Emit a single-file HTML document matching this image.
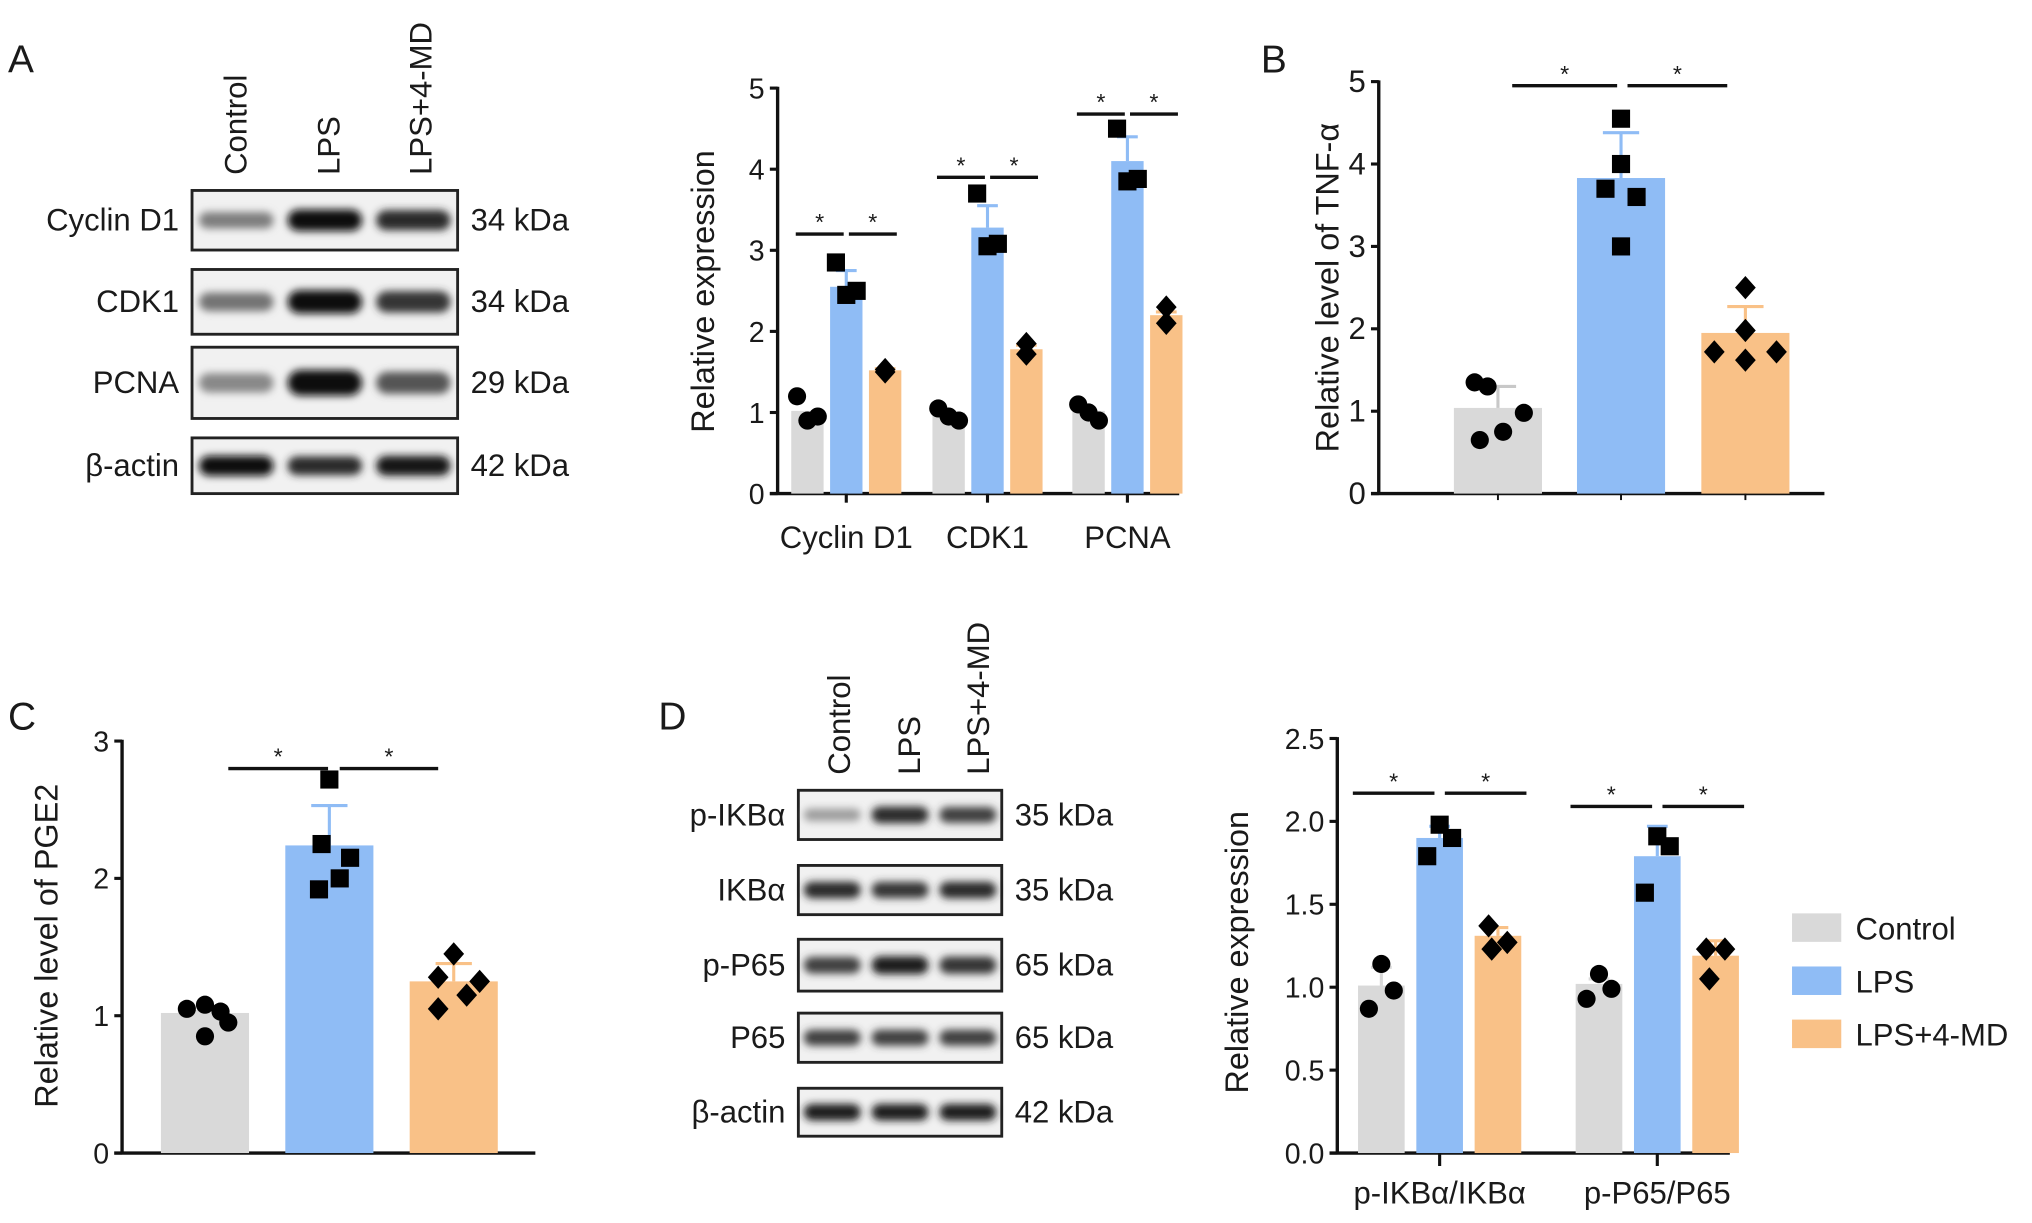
<!DOCTYPE html>
<html><head><meta charset="utf-8"><style>
html,body{margin:0;padding:0;background:#fff;}
svg{display:block;font-family:"Liberation Sans",Arial,sans-serif;}
</style></head><body>
<svg id="fig" width="2032" height="1223" viewBox="0 0 1568 944" xmlns="http://www.w3.org/2000/svg">
<defs>
<filter id="blur" x="-30%" y="-60%" width="160%" height="220%"><feGaussianBlur stdDeviation="3"/></filter>
</defs>
<g id="root"></g>
</svg>
<script>
// ---------- data ----------
const groupColors = ["#d9d9d9","#8fbcf5","#f9c187"];
const legendLabels = ["Control","LPS","LPS+4-MD"];

const aCategories = ["Cyclin D1","CDK1","PCNA"];
const aControl = [1.02, 1.0, 1.02];
const aLPS = [2.55, 3.28, 4.1];
const aMD = [1.52, 1.78, 2.2];
const aErrLPS = [0.2, 0.27, 0.3];
const aErrCtrl = [0.0, 0.0, 0.0];
const aErrMD = [0.02, 0.05, 0.04];
const aPtsCtrl = [[1.2,0.9,0.95],[1.05,0.95,0.9],[1.1,1.0,0.9]];
const aPtsLPS = [[2.85,2.45,2.5],[3.7,3.05,3.08],[4.5,3.85,3.88]];
const aPtsMD = [[1.53,1.5],[1.85,1.72],[2.3,2.1]];
const aSig = [3.2, 3.9, 4.68];
const aTicks = [0,1,2,3,4,5];

const bValues = [1.04, 3.83, 1.95];
const bErr = [0.26, 0.55, 0.32];
const bPts = [[1.3,1.35,0.98,0.75,0.65],[4.55,4.0,3.7,3.6,3.0],[2.5,1.98,1.72,1.72,1.62]];
const bSig = 4.95;
const bTicks = [0,1,2,3,4,5];

const cValues = [1.02, 2.24, 1.25];
const cErr = [0.01, 0.29, 0.13];
const cPts = [[1.05,1.08,1.03,0.95,0.85],[2.72,2.25,2.15,2.0,1.92],[1.45,1.28,1.25,1.15,1.05]];
const cSig = 2.8;
const cTicks = [0,1,2,3];

const dCategories = ["p-IKBα/IKBα","p-P65/P65"];
const dControl = [1.01, 1.02];
const dLPS = [1.9, 1.79];
const dMD = [1.31, 1.19];
const dErrCtrl = [0.11, 0.03];
const dErrLPS = [0.07, 0.18];
const dErrMD = [0.05, 0.09];
const dPtsCtrl = [[1.14,0.98,0.87],[1.08,0.99,0.93]];
const dPtsLPS = [[1.98,1.9,1.79],[1.91,1.85,1.57]];
const dPtsMD = [[1.37,1.27,1.23],[1.23,1.23,1.05]];
const dSig = [2.17, 2.09];
const dTicks = [0,0.5,1.0,1.5,2.0,2.5];

const blotARows = ["Cyclin D1","CDK1","PCNA","β-actin"];
const blotAkDa = ["34 kDa","34 kDa","29 kDa","42 kDa"];
const blotAInt = [[0.45,1,0.85],[0.5,1,0.8],[0.4,1,0.65],[1,0.85,0.95]];
const blotDRows = ["p-IKBα","IKBα","p-P65","P65","β-actin"];
const blotDkDa = ["35 kDa","35 kDa","65 kDa","65 kDa","42 kDa"];
const blotDInt = [[0.3,0.85,0.75],[0.85,0.8,0.85],[0.75,0.9,0.8],[0.75,0.75,0.75],[0.9,0.9,0.9]];
const laneLabels = ["Control","LPS","LPS+4-MD"];

// ---------- helpers ----------
const NS="http://www.w3.org/2000/svg";
const root=document.getElementById('root');
function mk(tag,attrs,parent){const e=document.createElementNS(NS,tag);for(const k in attrs)e.setAttribute(k,attrs[k]);(parent||root).appendChild(e);return e;}
function txt(s,x,y,size,anchor,parent,extra){const t=mk('text',Object.assign({x:x,y:y,'font-size':size,'text-anchor':anchor||'start',fill:'#1a1a1a'},extra||{}),parent);t.textContent=s;return t;}
function scaleY(y0,y1,vmax){return v=>y0-(y0-y1)*v/vmax;}

function marker(g,shape,cx,cy){
  const s=7;let m;
  if(shape==='circle') m=mk('circle',{cx:cx,cy:cy,r:s,fill:'#000'},g);
  else if(shape==='square') m=mk('rect',{x:cx-s,y:cy-s,width:2*s,height:2*s,fill:'#000'},g);
  else m=mk('polygon',{points:`${cx},${cy-s-2} ${cx+s+1},${cy} ${cx},${cy+s+2} ${cx-s-1},${cy}`,fill:'#000'},g);
  
  
}
const shapes=['circle','square','diamond'];

function axes(g,ax,y0,y1,xEnd,ticks,vmax,fmt,fs){
  const sy=scaleY(y0,y1,vmax);
  const ya=mk('line',{x1:ax,y1:y0,x2:ax,y2:y1-1,stroke:'#111','stroke-width':2.6},g);
  
  const xa=mk('line',{x1:ax-6,y1:y0,x2:xEnd,y2:y0,stroke:'#111','stroke-width':2.6},g);
  
  ticks.forEach(t=>{
    mk('line',{x1:ax-6,y1:sy(t),x2:ax,y2:sy(t),stroke:'#111','stroke-width':2.4},g);
    const l=txt(fmt(t),ax-10,sy(t)+8,fs,'end',g);
    
  });
  return sy;
}
function bar(g,cx,w,y0,ytop,color){
  const r=mk('rect',{x:cx-w/2,y:ytop,width:w,height:y0-ytop,fill:color},g);
  
}
function errbar(g,cx,yv,ye,color,cap){
  mk('line',{x1:cx,y1:yv,x2:cx,y2:ye,stroke:color,'stroke-width':2.4},g);
  mk('line',{x1:cx-cap,y1:ye,x2:cx+cap,y2:ye,stroke:color,'stroke-width':2.4},g);
}
function sig(g,x1,x2,y){
  const l=mk('line',{x1:x1,y1:y,x2:x2,y2:y,stroke:'#111','stroke-width':2.6},g);
  
  txt('*',(x1+x2)/2,y-3,18,'middle',g);
}
function ylabel(g,s,x,y,fs){
  const t=txt(s,x,y,fs,'middle',g,{transform:`rotate(-90 ${x} ${y})`});
  
}
function panelLetter(s,x,y){const t=txt(s,x,y,30,'start');}

function blot(name,x0,x1,rows,rowsY,kda,ints,lanes,fs){
  const g=mk('g',{});
  rows.forEach((r,i)=>{
    const [ya,yb]=rowsY[i];
    const box=mk('rect',{x:x0,y:ya,width:x1-x0,height:yb-ya,fill:'#f1f1f1',stroke:'#222','stroke-width':2.2},g);
    
    const lw=(x1-x0)/3;
    ints[i].forEach((v,j)=>{
      const cx=x0+lw*(j+0.5), cy=(ya+yb)/2, h=(yb-ya)*0.3*(0.7+v*0.5);
      const sh=Math.round(220-210*v);
      mk('rect',{x:cx-lw*0.42,y:cy-h/2,width:lw*0.84,height:h,rx:h/2,fill:`rgb(${sh},${sh},${sh})`,filter:'url(#blur)'},g);
    });
    txt(r,x0-10,(ya+yb)/2+8,fs,'end',g);
    txt(kda[i],x1+10,(ya+yb)/2+8,fs,'start',g);
  });
  lanes.forEach((l,j)=>{});
  return g;
}
function laneLabel(s,x,yBottom,fs){
  const t=txt(s,x,yBottom,fs,'start',root,{transform:`rotate(-90 ${x} ${yBottom})`});
  
}

// ---------- Panel A ----------
panelLetter('A',6,56);
blot('western-blot-a',148,353,blotARows,[[147,193],[208,258],[268,323],[338,381]],blotAkDa,blotAInt,laneLabels,24);
laneLabel('Control',190,135,24);laneLabel('LPS',262,135,24);laneLabel('LPS+4-MD',333,135,24);

(function(){
  const g=mk('g',{});
  const y0=381,y1=68,ax=600;
  const sy=axes(g,ax,y0,y1,910,aTicks,5,t=>String(t),22);
  const centers=[653,762,870], off=30, w=25;
  const vals=[aControl,aLPS,aMD], errs=[aErrCtrl,aErrLPS,aErrMD], pts=[aPtsCtrl,aPtsLPS,aPtsMD];
  aCategories.forEach((c,i)=>{
    for(let k=0;k<3;k++){
      const cx=centers[i]+(k-1)*off;
      bar(g,cx,w,y0,sy(vals[k][i]),groupColors[k]);
      if(errs[k][i]>0.01) errbar(g,cx,sy(vals[k][i]),sy(vals[k][i]+errs[k][i]),k==1?'#8fbcf5':groupColors[k],8);
      const p=pts[k][i];
      p.forEach((v,j)=>marker(g,shapes[k],cx+(p.length>2?(j-1)*8:0),sy(v)));
    }
    mk('line',{x1:centers[i],y1:y0,x2:centers[i],y2:y0+7,stroke:'#111','stroke-width':2.4},g);
    const l=txt(c,centers[i],423,24,'middle',g);
    const ys=sy(aSig[i]);
    sig(g,centers[i]-off-9,centers[i]-2,ys);
    sig(g,centers[i]+2,centers[i]+off+9,ys);
  });
  ylabel(g,'Relative expression',551,225,25);
})();

// ---------- Panel B ----------
panelLetter('B',973,56);
(function(){
  const g=mk('g',{});
  const y0=381,y1=63,ax=1064;
  const sy=axes(g,ax,y0,y1,1408,bTicks,5,t=>String(t),24);
  const centers=[1156,1251,1347],w=68;
  bValues.forEach((v,k)=>{
    bar(g,centers[k],w,y0,sy(v),groupColors[k]);
    errbar(g,centers[k],sy(v),sy(v+bErr[k]),k==0?'#c8c8c8':groupColors[k],14);
    const p=bPts[k];const offs=[-8,-18,20,4,-14];
    p.forEach((pv,j)=>marker(g,shapes[k],centers[k]+offs[j]*(k==0?1:(k==1?[0,0,-12,12,0][j]/offs[j]||0:[0,0,-24,24,0][j]/offs[j]||0)),sy(pv)));
    mk('line',{x1:centers[k],y1:y0,x2:centers[k],y2:y0+5,stroke:'#111','stroke-width':1.5},g);
  });
  sig(g,1167,1248,sy(bSig));sig(g,1256,1333,sy(bSig));
  ylabel(g,'Relative level of TNF-α',1033,222,25);
})();

// ---------- Panel C ----------
panelLetter('C',6,563);
(function(){
  const g=mk('g',{});
  const y0=890,y1=572,ax=94;
  const sy=axes(g,ax,y0,y1,413,cTicks,3,t=>String(t),22);
  const centers=[158,254,350],w=68;
  const offs=[[-14,0,12,18,0],[0,-6,16,8,-8],[0,-12,20,10,-12]];
  cValues.forEach((v,k)=>{
    bar(g,centers[k],w,y0,sy(v),groupColors[k]);
    errbar(g,centers[k],sy(v),sy(v+cErr[k]),groupColors[k],14);
    cPts[k].forEach((pv,j)=>marker(g,shapes[k],centers[k]+offs[k][j],sy(pv)));
  });
  sig(g,176,253,sy(cSig));sig(g,262,338,sy(cSig));
  ylabel(g,'Relative level of PGE2',44,730,25);
})();

// ---------- Panel D ----------
panelLetter('D',508,563);
blot('western-blot-d',616,773,blotDRows,[[610,648],[668,706],[725,765],[782,820],[840,877]],blotDkDa,blotDInt,laneLabels,24);
laneLabel('Control',656,598,24);laneLabel('LPS',710,598,24);laneLabel('LPS+4-MD',763,598,24);

(function(){
  const g=mk('g',{});
  const y0=890,y1=570,ax=1032;
  const sy=axes(g,ax,y0,y1,1335,dTicks,2.5,t=>t.toFixed(1),22);
  const centers=[1111,1279],off=45,w=36;
  const vals=[dControl,dLPS,dMD],errs=[dErrCtrl,dErrLPS,dErrMD],pts=[dPtsCtrl,dPtsLPS,dPtsMD];
  const offs=[[0,8,-8],[0,8,-8],[-6,6,-4]];
  dCategories.forEach((c,i)=>{
    for(let k=0;k<3;k++){
      const cx=centers[i]+(k-1)*off;
      bar(g,cx,w,y0,sy(vals[k][i]),groupColors[k]);
      errbar(g,cx,sy(vals[k][i]),sy(vals[k][i]+errs[k][i]),groupColors[k],8);
      pts[k][i].forEach((v,j)=>marker(g,shapes[k],cx+offs[k][j]*1.2,sy(v)));
    }
    mk('line',{x1:centers[i],y1:y0,x2:centers[i],y2:y0+10,stroke:'#111','stroke-width':2.4},g);
    const l=txt(c,centers[i],929,24,'middle',g);
    const ys=sy(dSig[i]);
    sig(g,centers[i]-off-22,centers[i]-4,ys);
    sig(g,centers[i]+4,centers[i]+off+22,ys);
  });
  ylabel(g,'Relative expression',963,735,25);
  // legend
  const lg=mk('g',{},g);
  legendLabels.forEach((s,k)=>{
    const y=705+k*41;
    const r=mk('rect',{x:1383,y:y,width:38,height:22,fill:groupColors[k]},lg);
    
    const t=txt(s,1432,y+20,24,'start',lg);
    
  });
})();
</script>
</body></html>
